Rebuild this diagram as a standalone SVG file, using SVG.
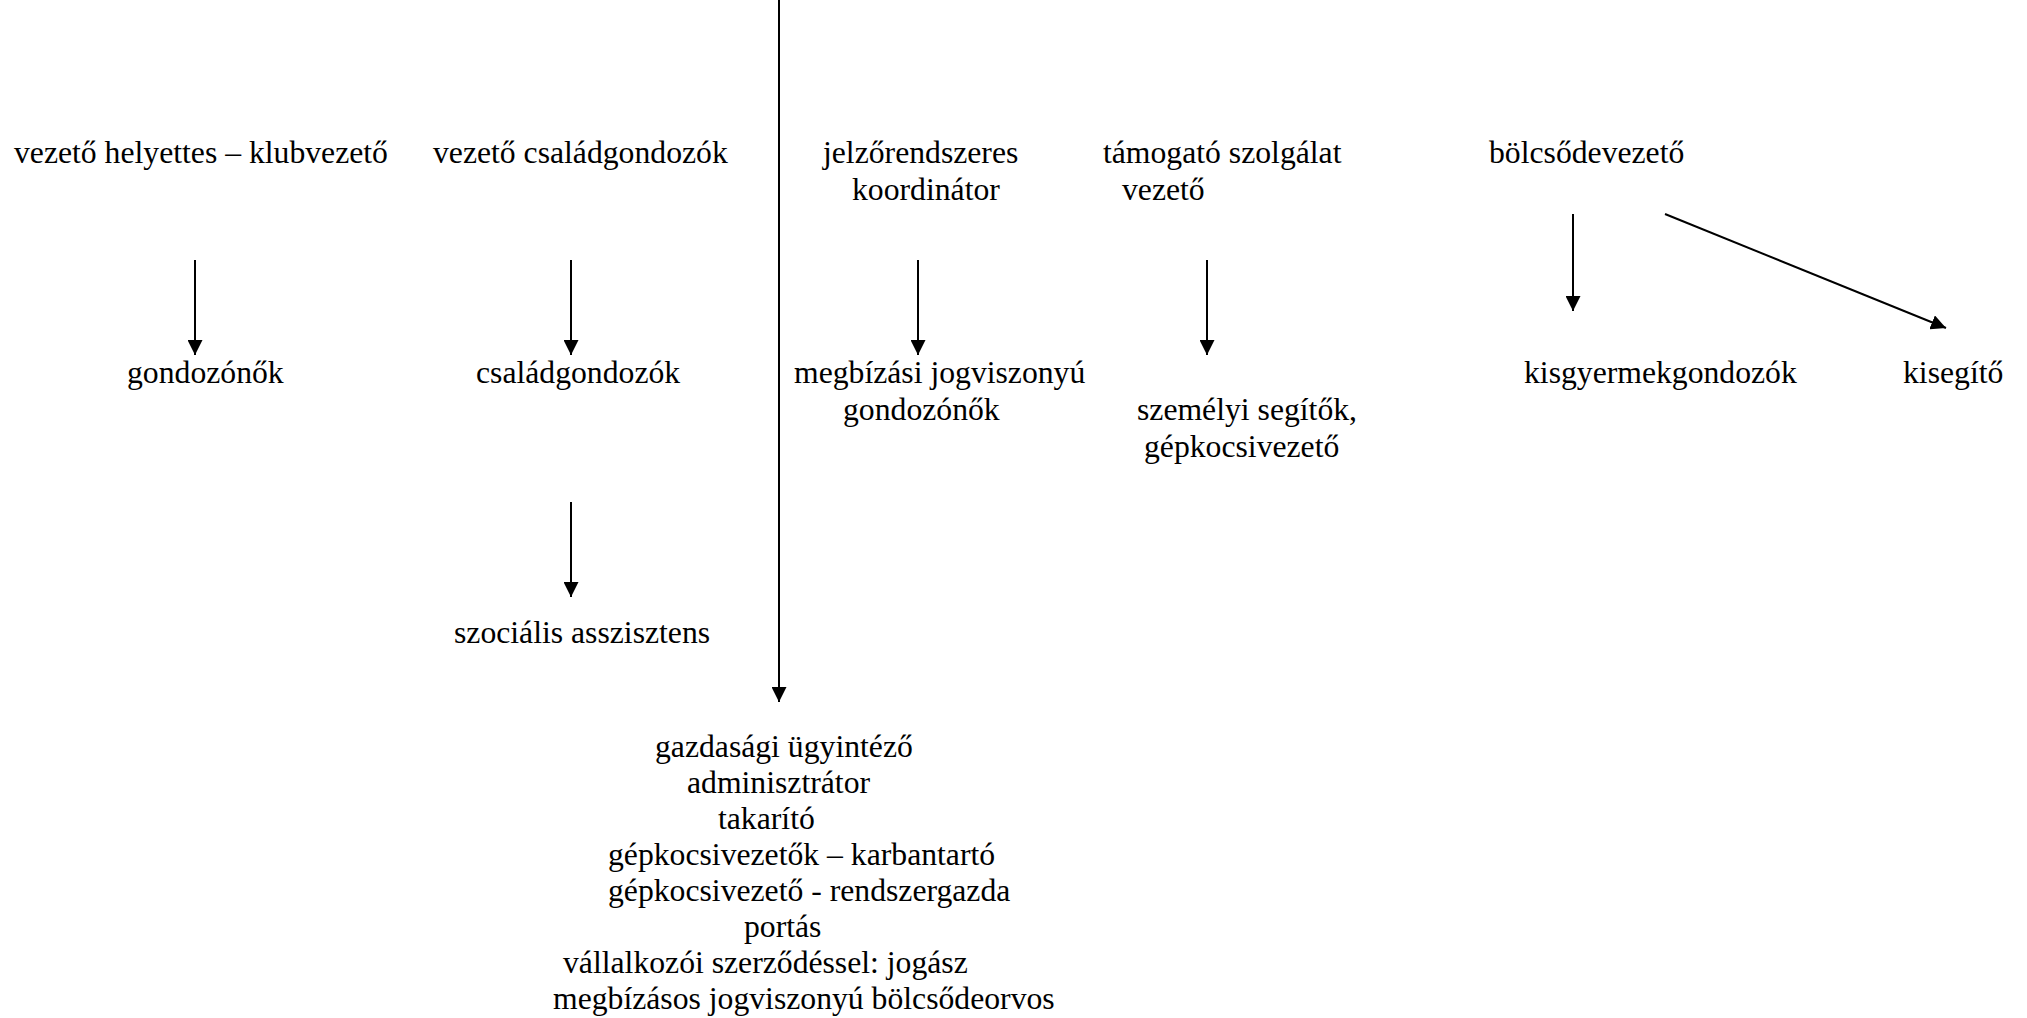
<svg xmlns="http://www.w3.org/2000/svg" width="2027" height="1018" viewBox="0 0 2027 1018" font-family="'Liberation Serif', 'Times New Roman', Times, serif" font-size="31.7">
<defs>
<marker id="ah" markerUnits="userSpaceOnUse" markerWidth="15" markerHeight="15" refX="15" refY="7.5" orient="auto" viewBox="0 0 15 15">
<path d="M0,0 L15,7.5 L0,15 z" fill="#000"/>
</marker>
</defs>
<style>
.c{stroke:#000;stroke-width:2;fill:none}
</style>
<rect width="2027" height="1018" fill="#fff"/>
<g id="connectors">
<line class="c" x1="779" y1="0" x2="779" y2="702" marker-end="url(#ah)"/>
<line class="c" x1="195" y1="260" x2="195" y2="355" marker-end="url(#ah)"/>
<line class="c" x1="571" y1="260" x2="571" y2="355" marker-end="url(#ah)"/>
<line class="c" x1="918" y1="260" x2="918" y2="355" marker-end="url(#ah)"/>
<line class="c" x1="1207" y1="260" x2="1207" y2="355" marker-end="url(#ah)"/>
<line class="c" x1="1573" y1="214" x2="1573" y2="311" marker-end="url(#ah)"/>
<line class="c" x1="1665" y1="214" x2="1946" y2="328" marker-end="url(#ah)"/>
<line class="c" x1="571" y1="502" x2="571" y2="597" marker-end="url(#ah)"/>
</g>
<g id="n-helyettes"><text x="14" y="163">vezető helyettes – klubvezető</text></g>
<g id="n-vezcsalad"><text x="433" y="163">vezető családgondozók</text></g>
<g id="n-jelzo"><text x="823" y="163">jelzőrendszeres</text><text x="852" y="200">koordinátor</text></g>
<g id="n-tamogato"><text x="1103" y="163">támogató szolgálat</text><text x="1122" y="200">vezető</text></g>
<g id="n-bolcsode"><text x="1489" y="163">bölcsődevezető</text></g>
<g id="n-gondozonok"><text x="127" y="383">gondozónők</text></g>
<g id="n-csaladgondozok"><text x="476" y="383">családgondozók</text></g>
<g id="n-megbizasi"><text x="794" y="383">megbízási jogviszonyú</text><text x="843" y="420">gondozónők</text></g>
<g id="n-szemelyi"><text x="1137" y="420">személyi segítők,</text><text x="1144" y="457">gépkocsivezető</text></g>
<g id="n-kisgyermek"><text x="1524" y="383">kisgyermekgondozók</text></g>
<g id="n-kisegito"><text x="1903" y="383">kisegítő</text></g>
<g id="n-szocialis"><text x="454" y="643">szociális asszisztens</text></g>
<g id="n-gazdasagi">
<text x="655" y="757">gazdasági ügyintéző</text>
<text x="687" y="793">adminisztrátor</text>
<text x="718" y="829">takarító</text>
<text x="608" y="865">gépkocsivezetők – karbantartó</text>
<text x="608" y="901">gépkocsivezető - rendszergazda</text>
<text x="744" y="937">portás</text>
<text x="563" y="973">vállalkozói szerződéssel: jogász</text>
<text x="553" y="1009">megbízásos jogviszonyú bölcsődeorvos</text>
</g>
</svg>
